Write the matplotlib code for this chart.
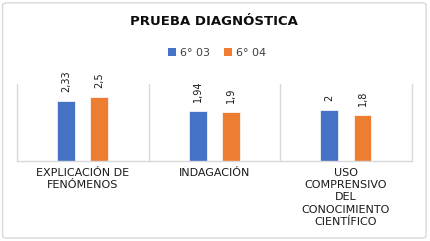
import matplotlib
matplotlib.use("Agg")
import matplotlib.pyplot as plt
from matplotlib.patches import FancyBboxPatch, Patch
import numpy as np

# Data
categories = ["EXPLICACIÓN DE\nFENÓMENOS", "INDAGACIÓN",
              "USO\nCOMPRENSIVO\nDEL\nCONOCIMIENTO\nCIENTÍFICO"]
series_names = ["6° 03", "6° 04"]
values_603 = [2.33, 1.94, 2.0]
values_604 = [2.5, 1.9, 1.8]
labels_603 = ["2,33", "1,94", "2"]
labels_604 = ["2,5", "1,9", "1,8"]

blue = "#4472C4"
orange = "#ED7D31"
grid_col = "#D9D9D9"

plt.rcParams["font.family"] = ["DejaVu Sans"]

fig = plt.figure(figsize=(4.3, 2.41), dpi=100)
fig.patch.set_facecolor("white")

# chart border
border = FancyBboxPatch((0.006, 0.012), 0.985, 0.976,
                        boxstyle="round,pad=0,rounding_size=0.01",
                        transform=fig.transFigure, facecolor="none",
                        edgecolor="#D9D9D9", linewidth=1.0)
fig.patches.append(border)

ax = fig.add_axes([0.0395, 0.332, 0.918, 0.319])

x = np.arange(len(categories))
w = 0.136
off = 0.126
b1 = ax.bar(x - off, values_603, w, color=blue, edgecolor="white", linewidth=0.5)
b2 = ax.bar(x + off, values_604, w, color=orange, edgecolor="white", linewidth=0.5)

for bars, labs in [(b1, labels_603), (b2, labels_604)]:
    for bar, lab in zip(bars, labs):
        ax.annotate(lab, (bar.get_x() + bar.get_width() / 2, bar.get_height()),
                    textcoords="offset points", xytext=(0, 6.5),
                    rotation=90, ha="center", va="bottom", fontsize=7,
                    color="#1A1A1A")

ax.set_xlim(-0.5, 2.5)
ax.set_ylim(0, 3)
ax.set_yticks([])
ax.set_xticks(x)
ax.set_xticklabels(categories, fontsize=8, color="#1A1A1A", linespacing=1.28)
ax.tick_params(axis="x", length=0, pad=5)
for xs in [0.5, 1.5]:
    ax.axvline(xs, color=grid_col, linewidth=1.0)
ax.spines["top"].set_visible(False)
for s in ["left", "right", "bottom"]:
    ax.spines[s].set_color(grid_col)
    ax.spines[s].set_linewidth(1.0)

fig.text(0.497, 0.912, "PRUEBA DIAGNÓSTICA", ha="center", va="center",
         fontsize=9.5, fontweight="bold", color="#0D0D0D")

handles = [Patch(facecolor=blue), Patch(facecolor=orange)]
fig.legend(handles, series_names, loc="center", bbox_to_anchor=(0.505, 0.78),
           ncol=2, frameon=False, fontsize=8, handlelength=0.7,
           handleheight=0.7, handletextpad=0.4, columnspacing=1.2,
           labelcolor="#404040")

plt.savefig("out.png", dpi=100)
